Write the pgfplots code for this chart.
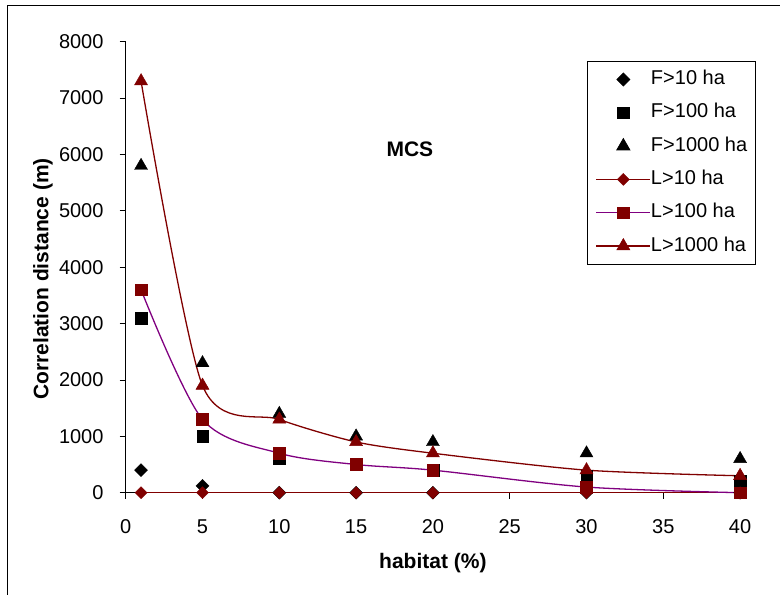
\documentclass[border=0pt]{standalone}
\usepackage{fontspec}
\setmainfont{Liberation Sans}
\usepackage{pgfplots}
\pgfplotsset{compat=1.18}
\definecolor{dred}{RGB}{128,0,0}
\definecolor{dpurp}{RGB}{128,0,128}
\pgfplotsset{leg/.style={legend image code/.code={\draw[mark repeat=2,mark phase=2,##1] plot coordinates {(0pt,0pt) (27pt,0pt) (54pt,0pt)};}}}
\begin{document}
\begin{tikzpicture}
\useasboundingbox (0,0) rectangle (780pt,595pt);
\draw[line width=1pt] (7pt,0pt) -- (7pt,589pt) -- (780pt,589pt);
\begin{axis}[
  at={(125.7pt,102.3pt)}, anchor=south west,
  scale only axis, width=614.4pt, height=451pt,
  xmin=0, xmax=40, ymin=0, ymax=8000,
  axis x line*=bottom, axis y line*=left,
  xtick={0,5,...,40}, ytick={0,1000,...,8000},
  tick align=outside, major tick length=6pt,
  tick style={black, line width=0.8pt},
  axis line style={black, line width=0.8pt},
  /pgf/number format/assume math mode=true,
  /pgf/number format/1000 sep={},
  tick label style={font=\fontsize{20}{24}\selectfont},
  xticklabel style={inner sep=0pt, anchor=north, yshift=-21pt},
  yticklabel style={inner sep=0pt, anchor=east, xshift=-16pt},
  clip=false,
  xlabel={habitat (\%)},
  ylabel={Correlation distance (m)},
  label style={font=\fontsize{21}{25}\selectfont\bfseries},
  xlabel style={at={(axis description cs:0.5,-0.167)}, anchor=base},
  ylabel style={at={(axis description cs:-0.1346,0.474)}, anchor=center},
  legend cell align=left,
  legend style={at={(0.7513,0.957)}, anchor=north west, draw=black, line width=0.8pt,
    font=\fontsize{20}{24}\selectfont, row sep=15.3pt, inner xsep=8pt, inner ysep=9pt,
    nodes={inner sep=0pt, text height=14pt, text depth=4pt},
    /tikz/every even column/.append style={column sep=5pt}},
]
\addplot[only marks, leg, mark=square*, mark size=4.6pt, mark options={rotate=45, fill=black, draw=black}, black]
  coordinates {(1,400) (5,120) (10,0) (15,0) (20,0) (30,0) (40,0)};
\addlegendentry{F>10 ha}
\addplot[only marks, leg, mark=square*, mark size=5.8pt, mark options={fill=black, draw=black}, black]
  coordinates {(1,3100) (5,1000) (10,600) (15,500) (20,400) (30,300) (40,200)};
\addlegendentry{F>100 ha}
\addplot[only marks, leg, mark=triangle*, mark size=7.5pt, mark options={fill=black, draw=black}, black]
  coordinates {(1,5800) (5,2300) (10,1400) (15,1000) (20,900) (30,700) (40,600)};
\addlegendentry{F>1000 ha}
\addplot[leg, smooth, dred, line width=1.3pt, mark=square*, mark size=4.2pt, mark options={rotate=45, fill=dred, draw=dred, solid, line width=0.5pt}]
  coordinates {(1,0) (5,0) (10,0) (15,0) (20,0) (30,0) (40,0)};
\addlegendentry{L>10 ha}
\addplot[leg, smooth, dpurp, line width=1.3pt, mark=square*, mark size=5.8pt, mark options={fill=dred, draw=dred, solid, line width=0.5pt}]
  coordinates {(1,3600) (5,1300) (10,700) (15,500) (20,400) (30,100) (40,0)};
\addlegendentry{L>100 ha}
\addplot[leg, smooth, tension=0.45, dred, line width=1.3pt, mark=triangle*, mark size=7.5pt, mark options={fill=dred, draw=dred, solid, line width=0.5pt}]
  coordinates {(1,7300) (5,1900) (10,1300) (15,900) (20,700) (30,400) (40,300)};
\addlegendentry{L>1000 ha}
\node[font=\fontsize{21}{25}\selectfont\bfseries] at (axis cs:18.5,6088) {MCS};
\end{axis}
\end{tikzpicture}
\end{document}
